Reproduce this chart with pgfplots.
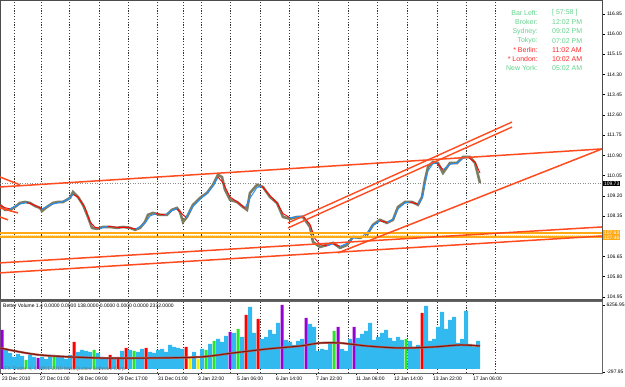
\documentclass[border=0pt]{standalone}
\usepackage{fontspec}
\setmainfont{Liberation Sans}
\usepackage{pgfplots}
\pgfplotsset{compat=1.18}
\definecolor{tl}{RGB}{255,75,30}
\definecolor{hb}{RGB}{255,170,20}
\definecolor{vc}{RGB}{50,185,240}
\definecolor{vg}{RGB}{40,230,40}
\definecolor{vr}{RGB}{255,0,0}
\definecolor{vm}{RGB}{150,0,210}
\definecolor{vy}{RGB}{240,240,0}
\definecolor{pb}{RGB}{125,125,100}
\definecolor{mab}{RGB}{30,144,255}
\definecolor{mar}{RGB}{255,0,0}
\definecolor{ig}{RGB}{100,210,140}
\definecolor{ir}{RGB}{255,40,40}
\definecolor{vma}{RGB}{130,20,10}
\definecolor{vmb}{RGB}{175,95,85}
\newcommand{\sm}{\fontsize{5}{6}\selectfont}
\begin{document}
\begin{tikzpicture}[x=1pt,y=1pt]
\useasboundingbox (0,0) rectangle (625,387);
% ---------------- main price pane ----------------
\begin{axis}[
  at={(0pt,87pt)}, anchor=south west, scale only axis,
  width=602pt, height=300pt,
  xmin=0, xmax=602, ymin=104.82, ymax=117.43,
  axis line style={draw=black!70, line width=0.8pt},
  xtick={14,41,69,99,128,157,183,201,230,260,289,318,348,377,407,437,466,495},
  xticklabels={}, xmajorgrids,
  major x grid style={black!80, dash pattern=on 1.2pt off 1.6pt, line width=0.5pt},
  x tick style={draw=none},
  ytick={104.95,105.80,106.65,108.35,109.20,110.05,110.90,111.75,112.60,113.45,114.30,115.15,116.00,116.85},
  yticklabels={104.95,105.80,106.65,108.35,109.20,110.05,110.90,111.75,112.60,113.45,114.30,115.15,116.00,116.85},
  ytick pos=right, yticklabel pos=right, tick align=outside, major tick length=3pt,
  y tick style={black, line width=0.5pt},
  yticklabel style={font=\sm, xshift=-1.5pt},
  clip=true,
]
% current price line
\addplot[black!45, dash pattern=on 1pt off 1.5pt, line width=0.5pt] coordinates {(0,109.73) (602,109.73)};
% price (bars)
\addplot[pb, line width=2.6pt] coordinates {
(0,108.82)(5,108.61)(10,108.61)(15,108.73)(20,108.90)(25,108.94)(30,108.90)(35,108.77)(40,108.69)(42,108.56)
(47,108.73)(53,108.90)(58,108.94)(63,108.94)(70,109.11)(73,109.36)(78,109.15)(83,108.82)(88,108.31)(92,107.85)
(97,107.81)(103,107.89)(110,107.89)(117,107.85)(123,107.89)(130,107.85)(135,107.77)(140,107.85)(145,108.10)(148,108.40)
(153,108.48)(160,108.40)(167,108.40)(172,108.61)(177,108.69)(180,108.52)(183,108.10)(187,108.31)(193,108.82)(200,109.11)
(207,109.32)(213,109.66)(218,110.08)(222,109.99)(225,109.45)(230,109.03)(237,108.94)(243,108.73)(247,108.61)(250,109.32)
(257,109.66)(263,109.57)(270,109.15)(277,108.90)(283,108.31)(290,108.23)(297,108.31)(303,108.31)(310,107.89)(313,107.26)
(320,107.05)(327,107.13)(333,107.22)(340,107.01)(347,107.13)(353,107.47)(360,107.43)(367,107.56)(373,107.98)(380,108.19)
(387,108.06)(393,108.19)(398,108.73)(405,108.94)(412,108.94)(418,108.82)(422,109.15)(425,109.87)(428,110.41)(433,110.62)
(438,110.58)(443,110.16)(450,110.58)(457,110.58)(463,110.83)(470,110.83)(475,110.58)(480,109.74)};
% moving average: blue rising, red falling
\addplot[mar, line width=0.9pt] coordinates {(0,108.80)(5,108.70)(10,108.65)};
\addplot[mab, line width=0.9pt] coordinates {(10,108.65)(20,108.85)(27,108.92)};
\addplot[mar, line width=0.9pt] coordinates {(27,108.92)(35,108.80)(42,108.65)};
\addplot[mab, line width=0.9pt] coordinates {(42,108.65)(50,108.82)(60,108.92)(68,109.05)(73,109.25)};
\addplot[mar, line width=0.9pt] coordinates {(73,109.25)(78,109.15)(85,108.70)(90,108.10)(95,107.88)(100,107.83)};
\addplot[mab, line width=0.9pt] coordinates {(100,107.83)(108,107.92)};
\addplot[mar, line width=0.9pt] coordinates {(108,107.92)(118,107.87)(128,107.87)(136,107.80)};
\addplot[mab, line width=0.9pt] coordinates {(136,107.80)(145,108.05)(150,108.35)(156,108.45)};
\addplot[mar, line width=0.9pt] coordinates {(156,108.45)(165,108.40)};
\addplot[mab, line width=0.9pt] coordinates {(165,108.40)(172,108.58)(177,108.65)};
\addplot[mar, line width=0.9pt] coordinates {(177,108.65)(183,108.40)(186,108.30)};
\addplot[mab, line width=0.9pt] coordinates {(186,108.30)(193,108.75)(200,109.05)(207,109.30)(213,109.62)(218,109.98)};
\addplot[mar, line width=0.9pt] coordinates {(218,109.98)(223,109.75)(230,109.15)(237,108.95)(245,108.68)};
\addplot[mab, line width=0.9pt] coordinates {(245,108.68)(250,109.10)(257,109.55)(262,109.60)};
\addplot[mar, line width=0.9pt] coordinates {(262,109.60)(270,109.20)(277,108.90)(283,108.45)(290,108.28)};
\addplot[mab, line width=0.9pt] coordinates {(290,108.28)(297,108.32)(303,108.35)};
\addplot[mar, line width=0.9pt] coordinates {(303,108.35)(310,108.00)(315,107.40)(320,107.15)(327,107.10)};
\addplot[mab, line width=0.9pt] coordinates {(327,107.10)(333,107.18)};
\addplot[mar, line width=0.9pt] coordinates {(333,107.18)(340,107.08)};
\addplot[mab, line width=0.9pt] coordinates {(340,107.08)(347,107.20)(353,107.42)(360,107.45)(367,107.62)(373,107.95)(380,108.15)};
\addplot[mar, line width=0.9pt] coordinates {(380,108.15)(387,108.08)};
\addplot[mab, line width=0.9pt] coordinates {(387,108.08)(393,108.22)(398,108.65)(405,108.90)(410,108.94)};
\addplot[mar, line width=0.9pt] coordinates {(410,108.94)(418,108.85)};
\addplot[mab, line width=0.9pt] coordinates {(418,108.85)(422,109.10)(425,109.70)(428,110.25)(433,110.55)(437,110.58)};
\addplot[mar, line width=0.9pt] coordinates {(437,110.58)(443,110.30)};
\addplot[mab, line width=0.9pt] coordinates {(443,110.30)(450,110.52)(457,110.58)(463,110.78)(468,110.82)};
\addplot[mar, line width=0.9pt] coordinates {(468,110.82)(475,110.62)(480,110.16)};
% horizontal support band
\addplot[hb, line width=1.8pt] coordinates {(0,107.63)(602,107.63)};
\addplot[hb, line width=1.8pt] coordinates {(0,107.46)(602,107.46)};
\addplot[hb!45, line width=1.2pt, dash pattern=on 1pt off 1pt] coordinates {(0,107.545)(602,107.545)};
% trend lines
\addplot[tl, line width=1.5pt] coordinates {(0,109.57)(602,111.17)};
\addplot[tl, line width=1.5pt] coordinates {(0,109.99)(20,109.66)};
\addplot[tl, line width=1.5pt] coordinates {(0,108.69)(18,108.48)};
\addplot[tl, line width=1.5pt] coordinates {(0,108.31)(8,108.19)};
\addplot[tl, line width=1.4pt] coordinates {(288,108.06)(512,112.30)};
\addplot[tl, line width=1.4pt] coordinates {(288,107.85)(512,112.09)};
\addplot[tl, line width=1.5pt] coordinates {(338,106.80)(602,111.17)};
\addplot[tl, line width=1.5pt] coordinates {(0,106.38)(602,107.89)};
\addplot[tl, line width=1.5pt] coordinates {(0,105.96)(602,107.51)};
\end{axis}
% ---------------- volume pane ----------------
\begin{axis}[
  at={(0pt,14pt)}, anchor=south west, scale only axis,
  width=602pt, height=72pt,
  xmin=0, xmax=602, ymin=-391, ymax=6650,
  axis line style={draw=black!60, line width=0.6pt},
  xtick={2,40,78,118,158,198,237,276,316,356,394,433,473},
  xticklabels={23 Dec 2010,27 Dec 01:00,28 Dec 09:00,29 Dec 17:00,31 Dec 01:00,3 Jan 22:00,5 Jan 06:00,6 Jan 14:00,7 Jan 22:00,11 Jan 06:00,12 Jan 14:00,13 Jan 22:00,17 Jan 06:00},
  xtick pos=bottom, tick align=outside, major tick length=2.5pt,
  x tick style={black, line width=0.5pt},
  xticklabel style={font=\sm, anchor=north west, xshift=-1.2pt, inner sep=1pt},
  extra x ticks={14,41,69,99,128,157,183,201,230,260,289,318,348,377,407,437,466,495},
  extra x tick labels={},
  extra x tick style={grid=major, tick style={draw=none}},
  major grid style={black!80, dash pattern=on 1.2pt off 1.6pt, line width=0.5pt},
  ytick={-297.95,6256.95}, yticklabels={-297.95,6256.95},
  ytick pos=right, yticklabel pos=right,
  y tick style={black, line width=0.5pt},
  yticklabel style={font=\sm, xshift=-1.5pt},
  clip=true,
]
\addplot[ybar, bar width=4, bar shift=0pt, fill=vc, draw=none] coordinates {
(6,1858)(10,1565)(14,1174)(18,1467)(22,1271)(30,1369)(34,1174)(42,1174)(46,978)(50,1369)(58,1174)(62,1271)(66,978)(70,1369)
(78,1663)(82,1858)(86,1760)(90,1663)(98,1565)(102,1174)(106,1076)(114,1174)(122,1760)(130,1858)(138,1663)(142,1956)
(150,1663)(154,1565)(158,1858)(162,1956)(166,1663)(170,2347)(174,2152)(178,2054)(182,1956)(194,1663)(202,1956)(210,2445)
(218,2934)(222,2641)(226,3227)(234,3521)(242,3130)(250,6064)(254,3521)(262,2934)(266,3130)(270,3814)(274,3423)(278,4499)
(286,2836)(290,2641)(294,2347)(298,2738)(302,2934)(310,4401)(314,4108)(318,1760)(322,1956)(326,1858)(330,2641)(342,1956)
(346,1760)(350,2934)(358,3032)(362,3423)(366,3716)(370,4499)(374,2836)(378,3130)(382,3521)(386,3814)(390,3032)(394,2738)
(398,3130)(402,2836)(410,2738)(414,2152)(418,2347)(426,6161)(430,2738)(434,2934)(438,4108)(442,5575)(446,3912)(450,4792)
(454,5086)(458,2543)(462,2934)(466,5672)(470,2445)(474,2152)(478,2738)};
\addplot[ybar, bar width=3, bar shift=0pt, fill=vg, draw=none] coordinates {
(26,880)(54,1369)(94,1858)(134,1760)(206,1858)(214,2738)(238,3912)(334,3716)(406,2934)};
\addplot[ybar, bar width=3, bar shift=0pt, fill=vr, draw=none] coordinates {
(74,2641)(110,1369)(118,1174)(126,2054)(146,2054)(186,2152)(246,5281)(258,4890)(422,5477)};
\addplot[ybar, bar width=3, bar shift=0pt, fill=vm, draw=none] coordinates {
(2,3814)(38,1076)(230,3619)(282,6259)(306,4988)(338,4108)(354,4108)};
\addplot[ybar, bar width=3, bar shift=0pt, fill=vy, draw=none] coordinates {
(190,1174)(198,978)};
% volume average
\addplot[vmb, line width=2.2pt, smooth] coordinates {
(0,2054)(40,1369)(100,1076)(150,1076)(200,1174)(233,1565)(267,1956)(300,2249)(320,2543)(340,2543)(367,2249)(400,2054)(433,2152)(460,2347)(480,2249)};
\addplot[vma, line width=1pt, smooth] coordinates {
(0,2054)(40,1369)(100,1076)(150,1076)(200,1174)(233,1565)(267,1956)(300,2249)(320,2543)(340,2543)(367,2249)(400,2054)(433,2152)(460,2347)(480,2249)};
\end{axis}
% pane separator
\draw[line width=2.5pt, black!65] (0,87) -- (602,87);
% price boxes on the scale
\node[fill=black, text=white, font=\sm, inner sep=0.8pt, anchor=west] at (603,203.3) {109.73};
\node[fill=hb, text=white, font=\sm, inner sep=0.8pt, anchor=west] at (603,154.3) {107.63};
\node[fill=hb, text=white, font=\sm, inner sep=0.8pt, anchor=west] at (603,149.2) {107.46};
% indicator texts
\node[anchor=west, font=\sm, inner sep=0pt] at (3,81) {Better Volume 1.4 0.0000 0.0000 138.0000 0.0000 0.0000 0.0000 2332.0000};
\node[anchor=west, font=\sm, text=black!55, inner sep=0pt] at (3,17.5) {IFX Trader 4, © 2001-2010 MetaQuotes Software Corp.};
% clock panel
\begin{scope}[every node/.style={font=\fontsize{7}{8}\selectfont, inner sep=0pt}]
\node[anchor=east, text=ig] at (538,374) {Bar Left:};
\node[anchor=west, text=ig] at (552,374) {[ 57:58 ]};
\node[anchor=east, text=ig] at (538,364.7) {Broker:};
\node[anchor=west, text=ig] at (552,364.7) {12:02 PM};
\node[anchor=east, text=ig] at (538,355.5) {Sydney:};
\node[anchor=west, text=ig] at (552,355.5) {09:02 PM};
\node[anchor=east, text=ig] at (538,346.2) {Tokyo:};
\node[anchor=west, text=ig] at (552,346.2) {07:02 PM};
\node[anchor=east, text=ir] at (538,337) {* Berlin:};
\node[anchor=west, text=ir] at (552,337) {11:02 AM};
\node[anchor=east, text=ir] at (538,327.7) {* London:};
\node[anchor=west, text=ir] at (552,327.7) {10:02 AM};
\node[anchor=east, text=ig] at (538,318.5) {New York:};
\node[anchor=west, text=ig] at (552,318.5) {05:02 AM};
\end{scope}
\end{tikzpicture}
\end{document}
